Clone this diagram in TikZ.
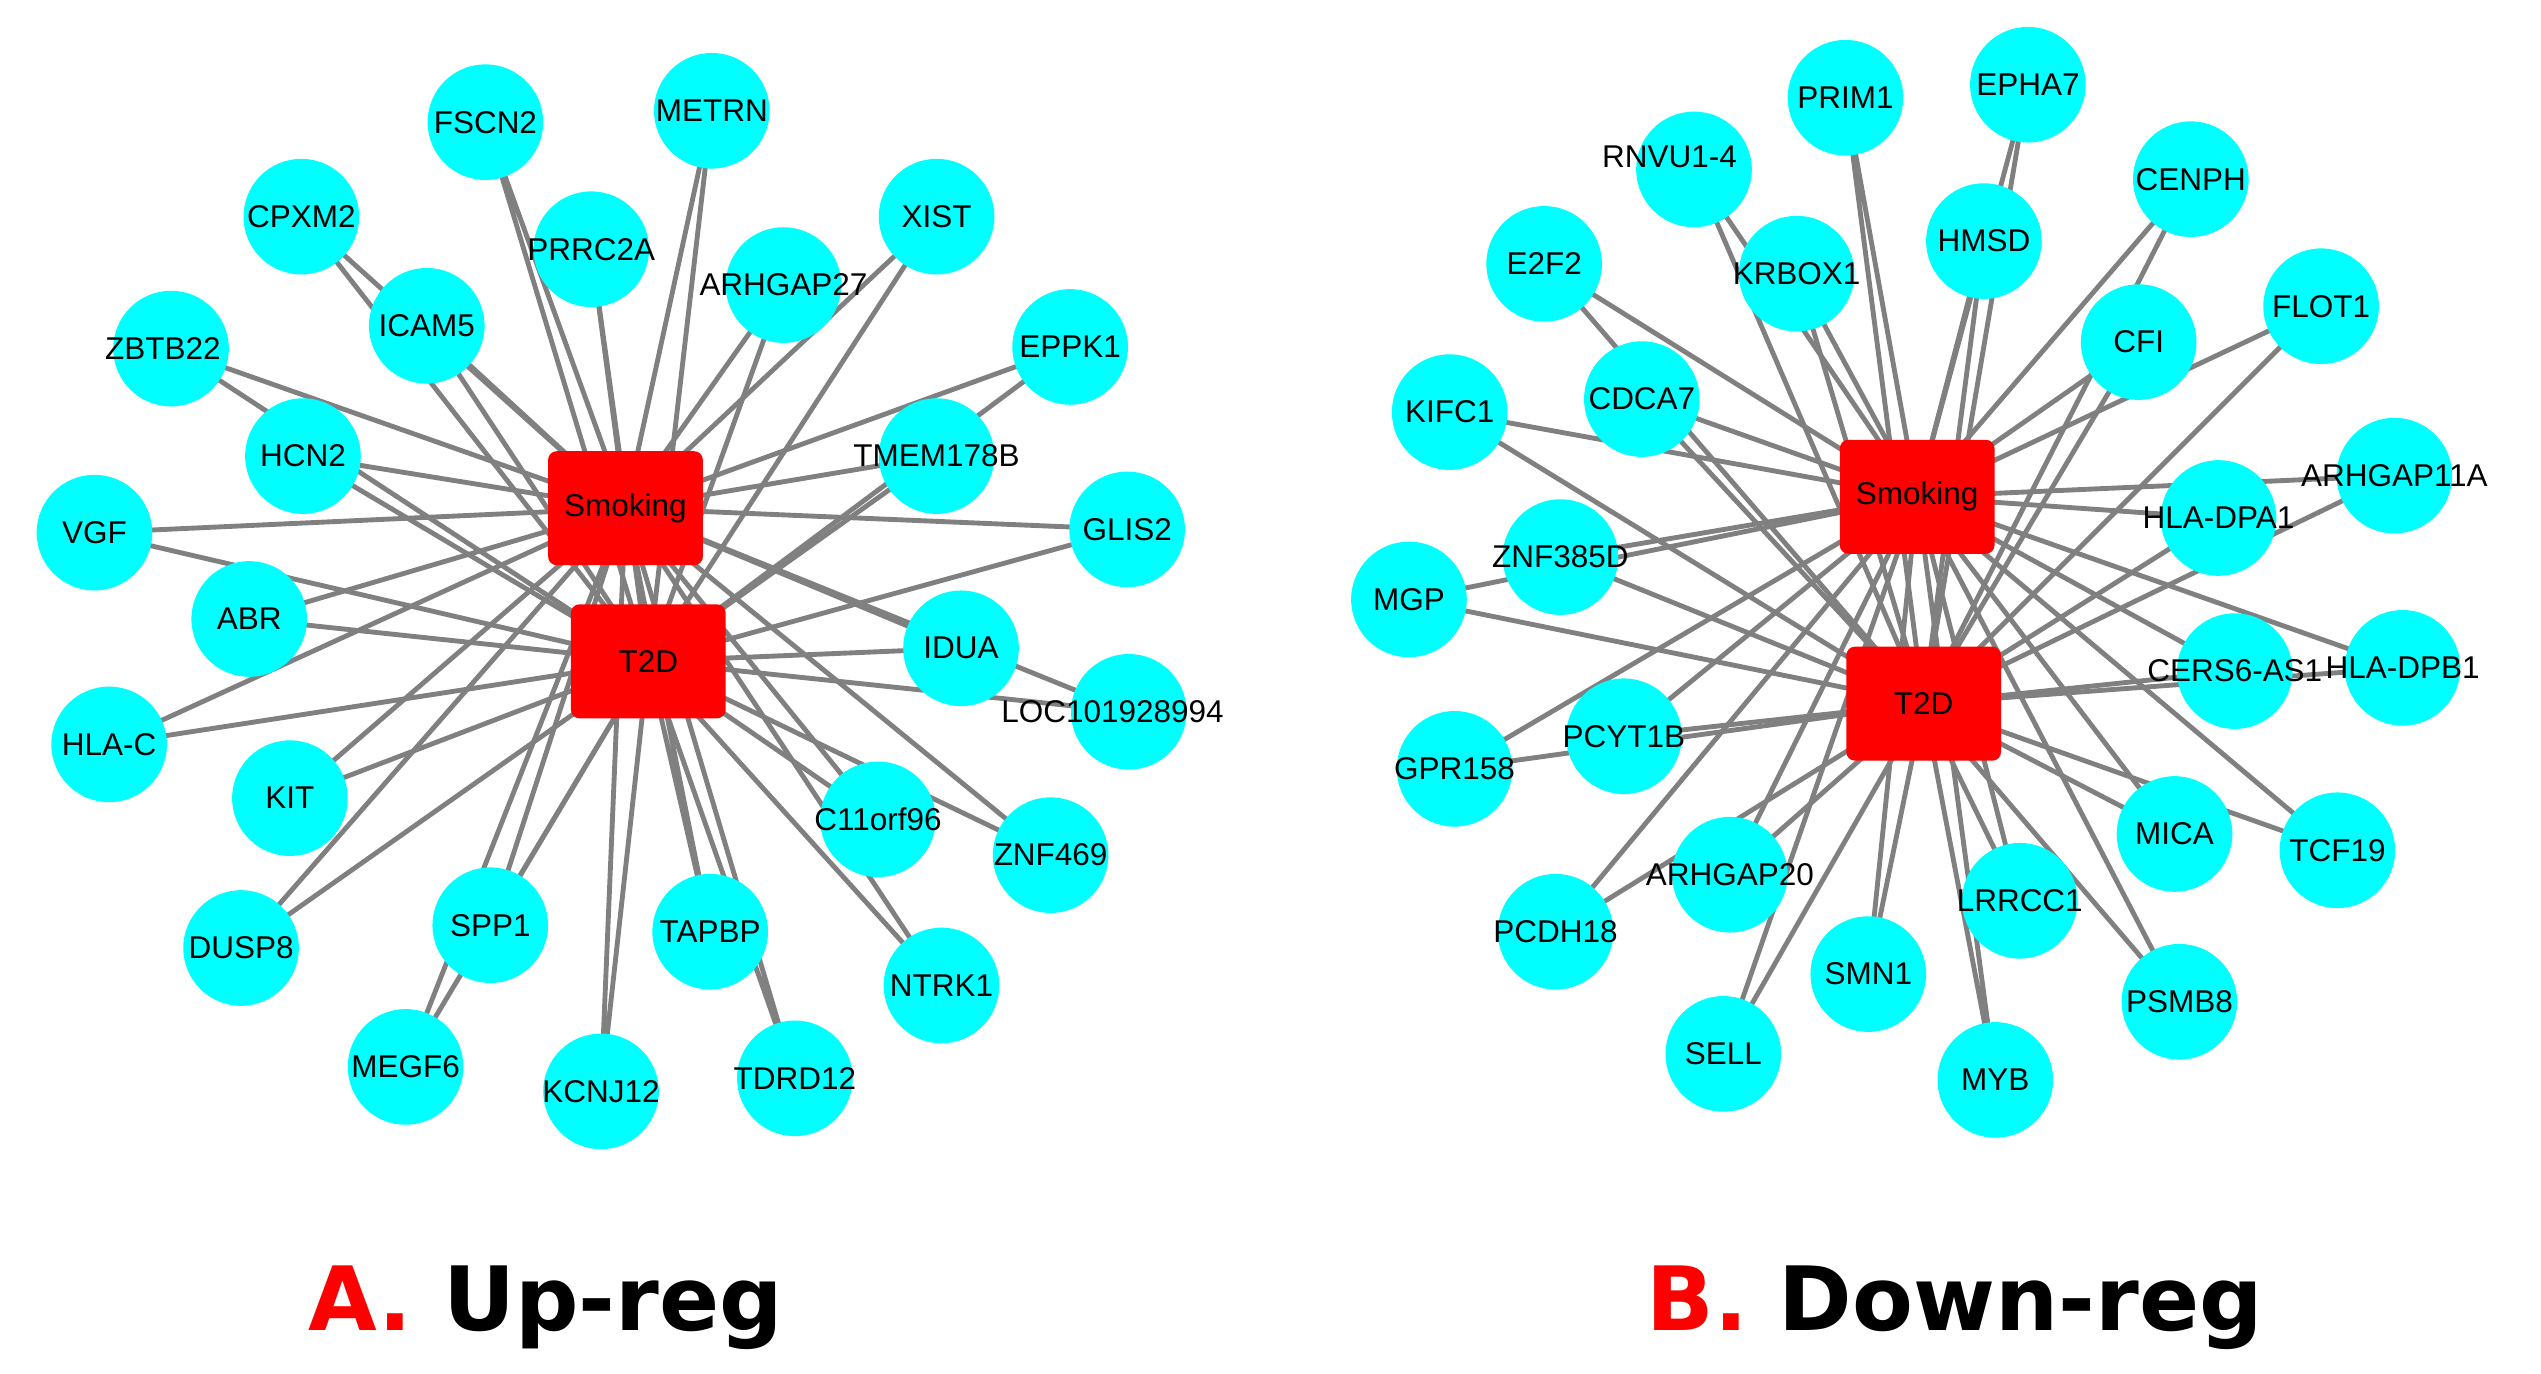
\documentclass[tikz,border=0pt]{standalone}
\usepackage{fontspec}
\setmainfont{Liberation Sans}
\newfontfamily\titlefont{DejaVu Sans}
\usetikzlibrary{backgrounds}
\definecolor{gcyan}{HTML}{00FFFF}
\definecolor{ered}{HTML}{808080}
\tikzset{
 gene/.style={circle,fill=gcyan,minimum size=1.42cm,inner sep=0pt},
 hub/.style={rectangle,rounded corners=3pt,fill=red,minimum width=1.9cm,minimum height=1.4cm,inner sep=0pt},
 lab/.style={font=\fontsize{11}{13}\selectfont,inner sep=0pt},
 edge/.style={draw=ered,line width=1.7pt}
}
\begin{document}
\begin{tikzpicture}[x=0.02cm,y=-0.02cm]
\useasboundingbox (0,0) rectangle (1560,843);
\node[hub] (sA) at (384,312) {};
\node[lab] at (sA) {Smoking};
\node[hub] (tA) at (398,406) {};
\node[lab] at (tA) {T2D};
\foreach \n/\x/\y/\t in {a1/298/75/FSCN2,a2/437/68/METRN,a3/185/133/CPXM2,a4/363/153/PRRC2A,a5/575/133/XIST,a6/481/175/ARHGAP27,a7/262/200/ICAM5,a8/105/214/ZBTB22,a9/657/213/EPPK1,a10/186/280/HCN2,a11/575/280/TMEM178B,a12/58/327/VGF,a13/692/325/GLIS2,a14/153/380/ABR,a15/590/398/IDUA,a16/693/437/LOC101928994,a17/67/457/HLA-C,a18/178/490/KIT,a19/539/503/C11orf96,a20/645/525/ZNF469,a21/148/582/DUSP8,a22/301/568/SPP1,a23/436/572/TAPBP,a24/578/605/NTRK1,a25/249/655/MEGF6,a26/369/670/KCNJ12,a27/488/662/TDRD12}{
 \node[gene] (\n) at (\x,\y) {};
 \begin{pgfonlayer}{background}
 \draw[edge] (\n.center) -- (sA.center) (\n.center) -- (tA.center);
 \end{pgfonlayer}
}
\foreach \n/\t/\dx in {a1/FSCN2/0,a2/METRN/0,a3/CPXM2/0,a4/PRRC2A/0,a5/XIST/0,a6/ARHGAP27/0,a7/ICAM5/0,a8/ZBTB22/-5,a9/EPPK1/0,a10/HCN2/0,a11/TMEM178B/0,a12/VGF/0,a13/GLIS2/0,a14/ABR/0,a15/IDUA/0,a16/LOC101928994/-10,a17/HLA-C/0,a18/KIT/0,a19/C11orf96/0,a20/ZNF469/0,a21/DUSP8/0,a22/SPP1/0,a23/TAPBP/0,a24/NTRK1/0,a25/MEGF6/0,a26/KCNJ12/0,a27/TDRD12/0}{
 \node[lab] at ([xshift=\dx*0.02cm]\n) {\t};
}
\node[hub] (sB) at (1177,305) {};
\node[lab] at (sB) {Smoking};
\node[hub] (tB) at (1181,432) {};
\node[lab] at (tB) {T2D};
\foreach \n/\x/\y in {b1/1133/60,b2/1245/52,b3/1040/104,b4/1345/110,b5/1218/148,b6/948/162,b7/1103/168,b8/1313/210,b9/1425/188,b10/890/253,b11/1008/245,b12/1470/292,b13/1362/318,b14/958/342,b15/865/368,b16/1475/410,b17/1372/412,b18/893/472,b19/997/452,b20/1335/512,b21/1435/522,b22/1062/537,b23/1240/553,b24/955/572,b25/1147/598,b26/1338/615,b27/1058/647,b28/1225/663}{
 \node[gene] (\n) at (\x,\y) {};
 \begin{pgfonlayer}{background}
 \draw[edge] (\n.center) -- (sB.center) (\n.center) -- (tB.center);
 \end{pgfonlayer}
}
\foreach \n/\t/\dx/\dy in {b1/PRIM1/0/0,b2/EPHA7/0/0,b3/RNVU1-4/-15/-8,b4/CENPH/0/0,b5/HMSD/0/0,b6/E2F2/0/0,b7/KRBOX1/0/0,b8/CFI/0/0,b9/FLOT1/0/0,b10/KIFC1/0/0,b11/CDCA7/0/0,b12/ARHGAP11A/0/0,b13/HLA-DPA1/0/0,b14/ZNF385D/0/0,b15/MGP/0/0,b16/HLA-DPB1/0/0,b17/CERS6-AS1/0/0,b18/GPR158/0/0,b19/PCYT1B/0/0,b20/MICA/0/0,b21/TCF19/0/0,b22/ARHGAP20/0/0,b23/LRRCC1/0/0,b24/PCDH18/0/0,b25/SMN1/0/0,b26/PSMB8/0/0,b27/SELL/0/0,b28/MYB/0/0}{
 \node[lab] at ([xshift=\dx*0.02cm,yshift=-\dy*0.02cm]\n) {\t};
}
\node[font=\titlefont\bfseries\fontsize{31}{36}\selectfont] (ta) at (335,803) {\textcolor{red}{A.} Up-reg};
\node[font=\titlefont\bfseries\fontsize{31}{36}\selectfont] (tb) at (1200,803) {\textcolor{red}{B.} Down-reg};
\end{tikzpicture}
\end{document}
